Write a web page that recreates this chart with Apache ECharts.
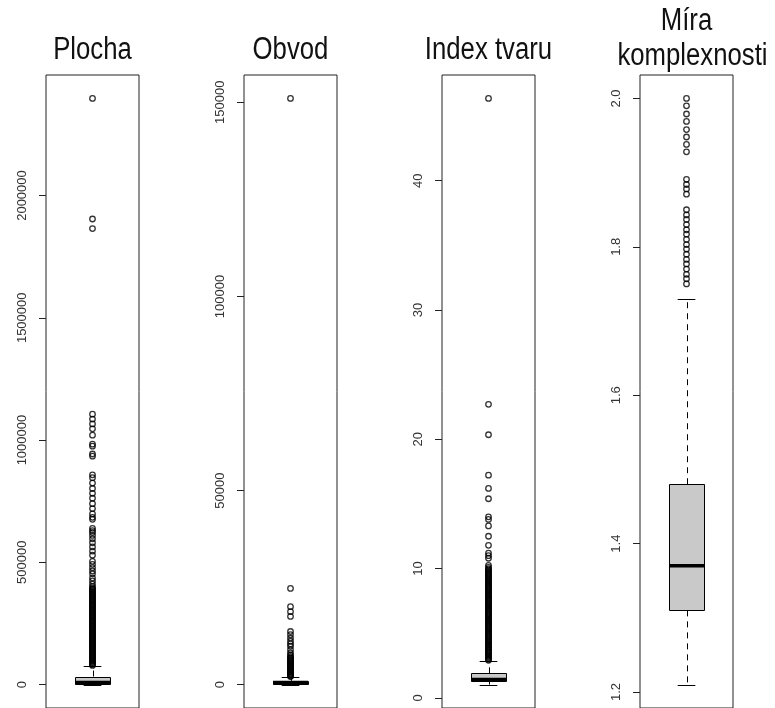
<!DOCTYPE html>
<html><head><meta charset="utf-8">
<script src="https://cdn.jsdelivr.net/npm/echarts@6/dist/echarts.min.js"></script>
<style>html,body{margin:0;padding:0;background:#fff}#c{width:775px;height:708px}</style>
</head><body><div id="c"></div>
<script>
// ---- data ----
const titles = [['Plocha'], ['Obvod'], ['Index tvaru'], ['Míra', 'komplexnosti']];

// box stats: [lower whisker, Q1, median, Q3, upper whisker]
const plochaBox = [150, 3000, 9000, 33000, 76000];
const obvodBox = [40, 300, 600, 1000, 2040];
const indexBox = [1.03, 1.25, 1.42, 1.9, 2.85];
const miraBox = [1.21, 1.31, 1.37, 1.48, 1.73];

const plochaOutliers = [2397000, 1904000, 1865000,
  1106000, 1086000, 1066000, 1046000, 1020000, 983000, 975000, 943000, 934000,
  858000, 846000, 824000, 802000, 782000, 762000, 740000, 720000, 698000, 684000, 676000,
  639000, 630000, 622000, 610000, 596000, 580000, 563000, 546000, 529000, 504000, 492000,
  478000, 465000, 453000, 436000, 424000, 411000, 401000,
  394000, 390500, 386000, 382200, 378000, 374500, 370000, 366300, 362000, 358400, 354000,
  350200, 346000, 342500, 338000, 334100, 330000, 326300, 322000, 318600, 314000, 310200,
  306000, 302400, 298000, 294300, 290000, 286500, 282000, 278200, 274000, 270400, 266000,
  262100, 258000, 254600, 250000, 246300, 242000, 238500, 234000, 230200, 226000, 222400,
  218000, 214300, 210000, 206600, 202000, 198200, 194000, 190500, 186000, 182300, 178000,
  174400, 170000, 166200, 162000, 158500, 154000, 150300, 146000, 142400, 138000, 134200,
  130000, 126500, 122000, 118300, 114000, 110400, 106000, 102200, 98000, 94500, 90000,
  86300, 82000, 78400];
const obvodOutliers = [151000, 24800, 20100, 18800, 17600, 13700, 12900, 12000, 11200,
  10500, 9900, 9000, 8200, 7700, 7300, 7000, 6750, 6500, 6250, 6000, 5750, 5500, 5250,
  5000, 4800, 4550, 4300, 4100, 3850, 3650, 3400, 3200, 3000, 2800, 2600, 2400, 2250, 2100];
const indexOutliers = [46.36, 22.7, 20.35, 17.22, 16.2, 15.4, 14.0, 13.8, 13.3, 12.5, 11.8,
  11.2, 11.0, 10.8, 10.25, 10.1, 9.98, 9.9, 9.81, 9.72, 9.64, 9.55, 9.47, 9.38, 9.3, 9.21,
  9.13, 9.05, 8.96, 8.88, 8.79, 8.71, 8.62, 8.54, 8.46, 8.37, 8.29, 8.2, 8.12, 8.04, 7.95,
  7.87, 7.78, 7.7, 7.62, 7.53, 7.45, 7.36, 7.28, 7.2, 7.11, 7.03, 6.94, 6.86, 6.78, 6.69,
  6.61, 6.52, 6.44, 6.36, 6.27, 6.19, 6.1, 6.02, 5.94, 5.85, 5.77, 5.68, 5.6, 5.52, 5.43,
  5.35, 5.26, 5.18, 5.1, 5.01, 4.93, 4.84, 4.76, 4.68, 4.59, 4.51, 4.42, 4.34, 4.26, 4.17,
  4.09, 4.0, 3.92, 3.84, 3.75, 3.67, 3.58, 3.5, 3.42, 3.33, 3.25, 3.16, 3.08, 2.99, 2.91];
const miraOutliers = [1.750, 1.757, 1.763, 1.770, 1.777, 1.783, 1.790, 1.797, 1.803, 1.810,
  1.817, 1.823, 1.830, 1.837, 1.843, 1.850, 1.871, 1.878, 1.884, 1.891,
  1.928, 1.938, 1.948, 1.958, 1.969, 1.979, 1.990, 2.000];

const plochaTicks = [0, 500000, 1000000, 1500000, 2000000];
const obvodTicks = [0, 50000, 100000, 150000];
const indexTicks = [0, 10, 20, 30, 40];
const miraTicks = [1.2, 1.4, 1.6, 1.8, 2.0];
const plochaTickLabels = ['0', '500000', '1000000', '1500000', '2000000'];
const obvodTickLabels = ['0', '50000', '100000', '150000'];
const indexTickLabels = ['0', '10', '20', '30', '40'];
const miraTickLabels = ['1.2', '1.4', '1.6', '1.8', '2.0'];

// ---- layout / style ----
const panels = [
  {box: plochaBox, out: plochaOutliers, ticks: plochaTicks, labels: plochaTickLabels},
  {box: obvodBox, out: obvodOutliers, ticks: obvodTicks, labels: obvodTickLabels},
  {box: indexBox, out: indexOutliers, ticks: indexTicks, labels: indexTickLabels},
  {box: miraBox, out: miraOutliers, ticks: miraTicks, labels: miraTickLabels}
];
const gridLefts = [46, 244, 442, 640];
const gridWidth = 93;
const gridTop = 75;
const gridBottom = -4;
const BOX_HALF = 0.376, CAP_HALF = 0.19;
const FONT = 'Liberation Sans, Arial, sans-serif';

function boxRender(params, api) {
  const x = api.value(0), lw = api.value(1), q1 = api.value(2), med = api.value(3), q3 = api.value(4), hw = api.value(5);
  const tl = api.coord([x - BOX_HALF, q3]);
  const br = api.coord([x + BOX_HALF, q1]);
  const c3 = api.coord([x, q3]), c1 = api.coord([x, q1]);
  const ch = api.coord([x, hw]), cl = api.coord([x, lw]);
  const ml = api.coord([x - BOX_HALF, med]), mr = api.coord([x + BOX_HALF, med]);
  const capL = api.coord([x - CAP_HALF, 0])[0], capR = api.coord([x + CAP_HALF, 0])[0];
  const cx = Math.round(c3[0]) + 0.5;
  const line = (x1, y1, x2, y2, style) => ({type: 'line', shape: {x1, y1, x2, y2}, style});
  const solid = {stroke: '#000', lineWidth: 1};
  const dashed = {stroke: '#000', lineWidth: 1, lineDash: [6, 5]};
  return {type: 'group', children: [
    line(cx, c3[1], cx, ch[1], dashed),
    line(cx, c1[1], cx, cl[1], dashed),
    line(capL, Math.round(ch[1]) + 0.5, capR, Math.round(ch[1]) + 0.5, solid),
    line(capL, Math.round(cl[1]) + 0.5, capR, Math.round(cl[1]) + 0.5, solid),
    {type: 'rect', shape: {x: Math.round(tl[0]) + 0.5, y: Math.round(tl[1]) + 0.5,
      width: Math.round(br[0] - tl[0]), height: Math.max(1, Math.round(br[1] - tl[1]))},
      style: {fill: '#c9c9c9', stroke: '#000', lineWidth: 1}},
    line(ml[0], ml[1], mr[0], mr[1], {stroke: '#000', lineWidth: 3.5})
  ]};
}

const grid = [], xAxis = [], yAxis = [], series = [], graphic = [];
panels.forEach((p, i) => {
  const all = p.box.concat(p.out);
  const dmin = Math.min(...all), dmax = Math.max(...all);
  const ext = 0.04 * (dmax - dmin);
  grid.push({left: gridLefts[i], width: gridWidth, top: gridTop, bottom: gridBottom,
    show: true, borderColor: '#222', borderWidth: 1, backgroundColor: 'transparent'});
  xAxis.push({type: 'value', gridIndex: i, min: -1, max: 1, show: false});
  yAxis.push({type: 'value', gridIndex: i, min: dmin - ext, max: dmax + ext, position: 'left',
    axisLine: {show: false, onZero: false}, splitLine: {show: false},
    axisTick: {show: true, length: 7, lineStyle: {color: '#222', width: 1}, customValues: p.ticks},
    axisLabel: {show: true, rotate: 90, margin: 17, fontSize: 13, color: '#333', fontFamily: FONT,
      customValues: p.ticks,
      formatter: (v) => { const k = p.ticks.findIndex(t => Math.abs(t - v) < 1e-9); return k >= 0 ? p.labels[k] : ''; }}
  });
  series.push({type: 'custom', xAxisIndex: i, yAxisIndex: i, renderItem: boxRender,
    data: [[0].concat(p.box)], z: 2, silent: true});
  series.push({type: 'scatter', xAxisIndex: i, yAxisIndex: i, symbol: 'circle', symbolSize: 5.5,
    itemStyle: {color: 'rgba(0,0,0,0)', borderColor: '#000', borderWidth: 1.3},
    data: p.out.map(v => [0, v]), z: 3, silent: true});
  const cxTitle = gridLefts[i] + gridWidth / 2;
  const t = titles[i];
  const tStyle = (txt) => ({text: txt, font: '31px ' + FONT, fill: '#111', align: 'center', verticalAlign: 'middle'});
  if (t.length === 1) {
    graphic.push({type: 'text', x: cxTitle, y: 50, scaleX: 0.83, style: tStyle(t[0])});
  } else {
    graphic.push({type: 'text', x: cxTitle, y: 21, scaleX: 0.83, style: tStyle(t[0])});
    graphic.push({type: 'text', x: cxTitle + 6, y: 56, scaleX: 0.83, style: tStyle(t[1])});
  }
});

const chart = echarts.init(document.getElementById('c'), null, {renderer: 'canvas'});
chart.setOption({animation: false, backgroundColor: '#fff', grid, xAxis, yAxis, series, graphic});
</script>
</body></html>
